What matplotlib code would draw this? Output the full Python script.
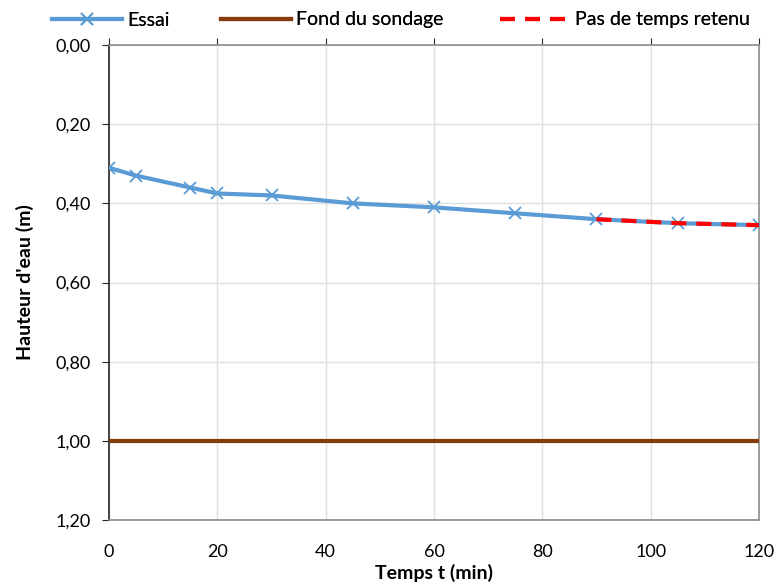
import matplotlib
matplotlib.use("Agg")
import matplotlib.pyplot as plt
from matplotlib.ticker import FuncFormatter, MultipleLocator

plt.rcParams['font.family'] = ['Lato', 'DejaVu Sans']

# Mesures de l'essai
temps = [0, 5, 15, 20, 30, 45, 60, 75, 90, 105, 120]
hauteur = [0.31, 0.33, 0.36, 0.375, 0.38, 0.40, 0.41, 0.425, 0.44, 0.45, 0.455]

# Fond du sondage
fond_t = [0, 120]
fond_h = [1.00, 1.00]

# Pas de temps retenu
retenu_t = [90, 105, 120]
retenu_h = [0.44, 0.45, 0.455]

fig = plt.figure(figsize=(7.76, 5.85), dpi=100)
ax = fig.add_axes([0.1405, 0.111, 0.8375, 0.812])

l1, = ax.plot(temps, hauteur, color='#5B9BD5', lw=3, marker='x', ms=8, mew=1.3,
              label='Essai', zorder=3)
l2, = ax.plot(fond_t, fond_h, color='#843C0C', lw=3, label='Fond du sondage', zorder=3)
l3, = ax.plot(retenu_t, retenu_h, color='#FF0000', lw=3, ls=(0, (3.6, 2.4)),
              label='Pas de temps retenu', zorder=4)

ax.set_xlim(0, 120)
ax.set_ylim(1.2, 0.0)
ax.xaxis.set_major_locator(MultipleLocator(20))
ax.yaxis.set_major_locator(MultipleLocator(0.2))
ax.yaxis.set_major_formatter(FuncFormatter(lambda v, p: f"{v:.2f}".replace('.', ',')))

ax.grid(True, color='#E0E0E0', lw=1, zorder=0)
ax.set_axisbelow(True)

for s in ('right', 'bottom', 'top'):
    ax.spines[s].set_color('#8C8C8C')
    ax.spines[s].set_linewidth(1.2)
ax.spines['left'].set_color('#262626')
ax.spines['left'].set_linewidth(1.2)

# x ticks on the top line (axis crosses at 0), labels at the bottom
ax.tick_params(axis='x', which='both', top=True, bottom=False, direction='out',
               length=5, color='#262626', labelsize=13, pad=12)
ax.tick_params(axis='y', direction='out', length=5, color='#262626',
               labelsize=13, pad=8)

ax.set_xlabel("Temps t (min)", fontsize=14, fontweight='bold')
ax.set_ylabel("Hauteur d'eau (m)", fontsize=14, fontweight='bold')
ax.xaxis.set_label_coords(0.5, -0.092)
ax.yaxis.set_label_coords(-0.115, 0.5)

# Legend entries laid out along the top
for line, xpos in ((l1, 52), (l2, 221), (l3, 500)):
    leg = fig.legend(handles=[line], loc='center left',
                     bbox_to_anchor=(xpos / 776, 1 - 20 / 585),
                     frameon=False, fontsize=14, handlelength=3.6,
                     handletextpad=0.25, borderpad=0, borderaxespad=0)
    fig.add_artist(leg)

fig.savefig('out.png', dpi=100)
